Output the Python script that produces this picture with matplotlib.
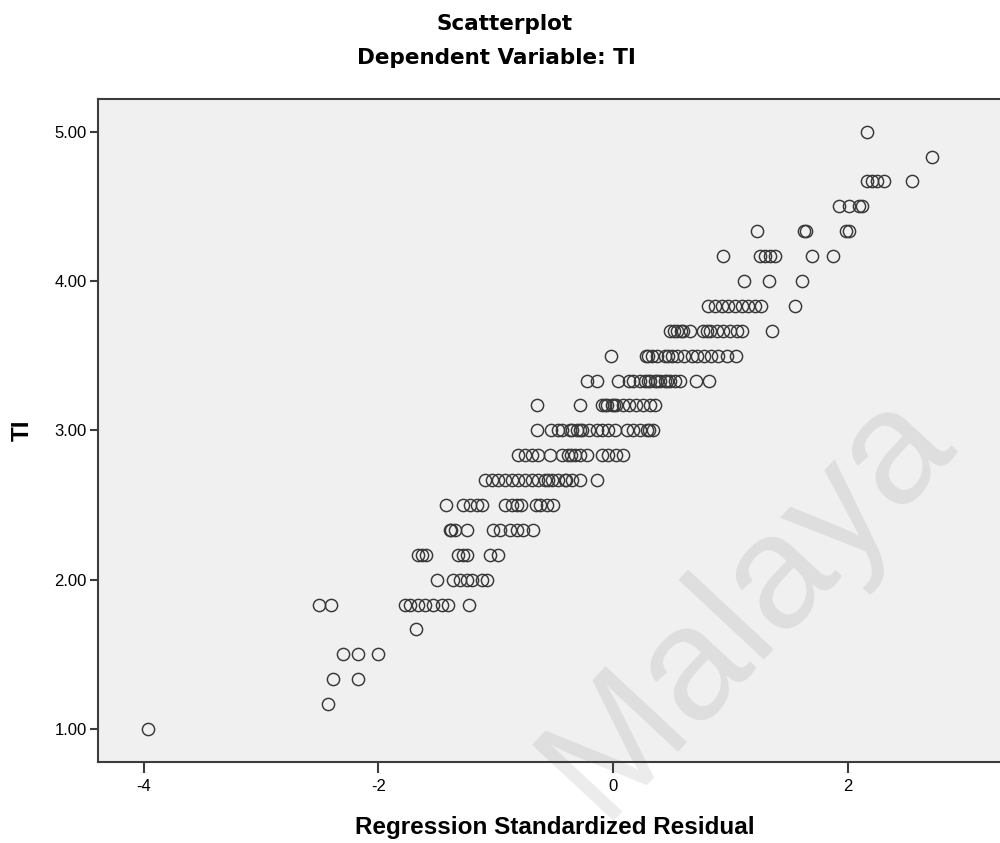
import matplotlib
matplotlib.use("Agg")
import matplotlib.pyplot as plt
import numpy as np

# ── data: TI value (rows of sixths) and standardized residuals ──
ti_levels = [5.00, 29 / 6, 28 / 6, 4.50, 26 / 6, 25 / 6, 4.00, 23 / 6, 22 / 6, 3.50,
             20 / 6, 19 / 6, 3.00, 17 / 6, 16 / 6, 2.50, 14 / 6, 13 / 6, 2.00,
             11 / 6, 10 / 6, 1.50, 8 / 6, 7 / 6, 1.00]

res_500 = [2.17]
res_483 = [2.72]
res_467 = [2.17, 2.21, 2.25, 2.31, 2.55]
res_450 = [1.93, 2.01, 2.10, 2.12]
res_433 = [1.23, 1.63, 1.65, 1.99, 2.01]
res_417 = [0.94, 1.25, 1.30, 1.34, 1.38, 1.70, 1.88]
res_400 = [1.12, 1.33, 1.61]
res_383 = [0.81, 0.87, 0.93, 0.98, 1.04, 1.10, 1.15, 1.21, 1.26, 1.55]
res_367 = [0.49, 0.52, 0.55, 0.58, 0.60, 0.66, 0.77, 0.80, 0.83, 0.89, 0.94,
           1.00, 1.06, 1.10, 1.36]
res_350 = [-0.02, 0.28, 0.30, 0.33, 0.38, 0.44, 0.47, 0.50, 0.55, 0.61, 0.67,
           0.72, 0.78, 0.84, 0.90, 0.97, 1.05]
res_333 = [-0.22, -0.14, 0.04, 0.14, 0.17, 0.23, 0.27, 0.30, 0.32, 0.36, 0.38,
           0.40, 0.44, 0.46, 0.49, 0.53, 0.57, 0.71, 0.82]
res_317 = [-0.65, -0.28, -0.09, -0.07, -0.05, -0.01, 0.01, 0.03, 0.09, 0.14,
           0.20, 0.26, 0.32, 0.36]
res_300 = [-0.65, -0.53, -0.47, -0.43, -0.37, -0.35, -0.31, -0.28, -0.26, -0.20,
           -0.14, -0.09, -0.04, 0.02, 0.12, 0.17, 0.23, 0.29, 0.31, 0.34]
res_283 = [-0.81, -0.75, -0.69, -0.64, -0.54, -0.43, -0.38, -0.36, -0.32, -0.28,
           -0.22, -0.09, -0.04, 0.03, 0.09]
res_267 = [-1.09, -1.03, -0.98, -0.92, -0.86, -0.81, -0.75, -0.69, -0.64, -0.58,
           -0.55, -0.52, -0.47, -0.41, -0.40, -0.35, -0.28, -0.14]
res_250 = [-1.42, -1.28, -1.22, -1.16, -1.12, -0.92, -0.86, -0.82, -0.78, -0.66,
           -0.62, -0.56, -0.51]
res_233 = [-1.39, -1.38, -1.35, -1.24, -1.02, -0.96, -0.88, -0.82, -0.77, -0.68]
res_217 = [-1.66, -1.63, -1.59, -1.32, -1.28, -1.24, -1.05, -0.98]
res_200 = [-1.50, -1.36, -1.30, -1.24, -1.20, -1.12, -1.07]
res_183 = [-2.51, -2.40, -1.77, -1.73, -1.66, -1.60, -1.53, -1.46, -1.41, -1.23]
res_167 = [-1.68]
res_150 = [-2.30, -2.17, -2.00]
res_133 = [-2.39, -2.17]
res_117 = [-2.43]
res_100 = [-3.96]

rows = [res_500, res_483, res_467, res_450, res_433, res_417, res_400, res_383,
        res_367, res_350, res_333, res_317, res_300, res_283, res_267, res_250,
        res_233, res_217, res_200, res_183, res_167, res_150, res_133, res_117,
        res_100]

x_ticks = [-4, -2, 0, 2]
y_ticks = [1.0, 2.0, 3.0, 4.0, 5.0]

# ── plot ──────────────────────────────────────────────────────────────────────
plt.rcParams["font.family"] = ["Liberation Sans", "DejaVu Sans"]

x = np.concatenate([np.array(r, dtype=float) for r in rows])
y = np.concatenate([np.full(len(r), lvl) for r, lvl in zip(rows, ti_levels)])

fig = plt.figure(figsize=(10, 8.43), dpi=100)
ax = fig.add_axes([0.098, 0.0961, 0.902, 0.786])
ax.set_facecolor("#f0f0f0")

# watermark, drawn under the points
ax.text(0.748, 0.285, "Malaya", transform=fig.transFigure, ha="center", va="center",
        rotation=47, fontsize=116, color="black", alpha=0.08, zorder=0)

ax.plot(x, y, ls="none", marker="o", ms=8.8, mfc="none", mec="#383838", mew=1.05,
        zorder=3)

ax.set_xlim(-4.39, 3.30)
ax.set_ylim(0.779, 5.216)
ax.set_xticks(x_ticks)
ax.set_xticklabels([str(t) for t in x_ticks])
ax.set_yticks(y_ticks)
ax.set_yticklabels([f"{t:.2f}" for t in y_ticks])

for side in ["left", "bottom", "top"]:
    ax.spines[side].set_color("#3c3c3c")
    ax.spines[side].set_linewidth(1.5)
ax.spines["right"].set_visible(False)
ax.tick_params(axis="both", color="#3c3c3c", width=1.5, labelsize=12, labelcolor="black")
ax.tick_params(axis="y", length=6, pad=2)
ax.tick_params(axis="x", length=8, pad=4)

ax.set_xlabel("Regression Standardized Residual", fontsize=17.5, fontweight="bold")
ax.xaxis.label.set_va("center")
ax.xaxis.set_label_coords(0.506, -0.0995)
ax.set_ylabel("TI", fontsize=17.5, fontweight="bold")
ax.yaxis.label.set_va("center")
ax.yaxis.set_label_coords(-0.0843, 0.5)

fig.text(0.505, 0.972, "Scatterplot", ha="center", va="center", fontsize=15.5,
         fontweight="bold", family="DejaVu Sans")
fig.text(0.496, 0.9315, "Dependent Variable: TI", ha="center", va="center",
         fontsize=15.5, fontweight="bold", family="DejaVu Sans")

fig.savefig("out.png", dpi=100)
